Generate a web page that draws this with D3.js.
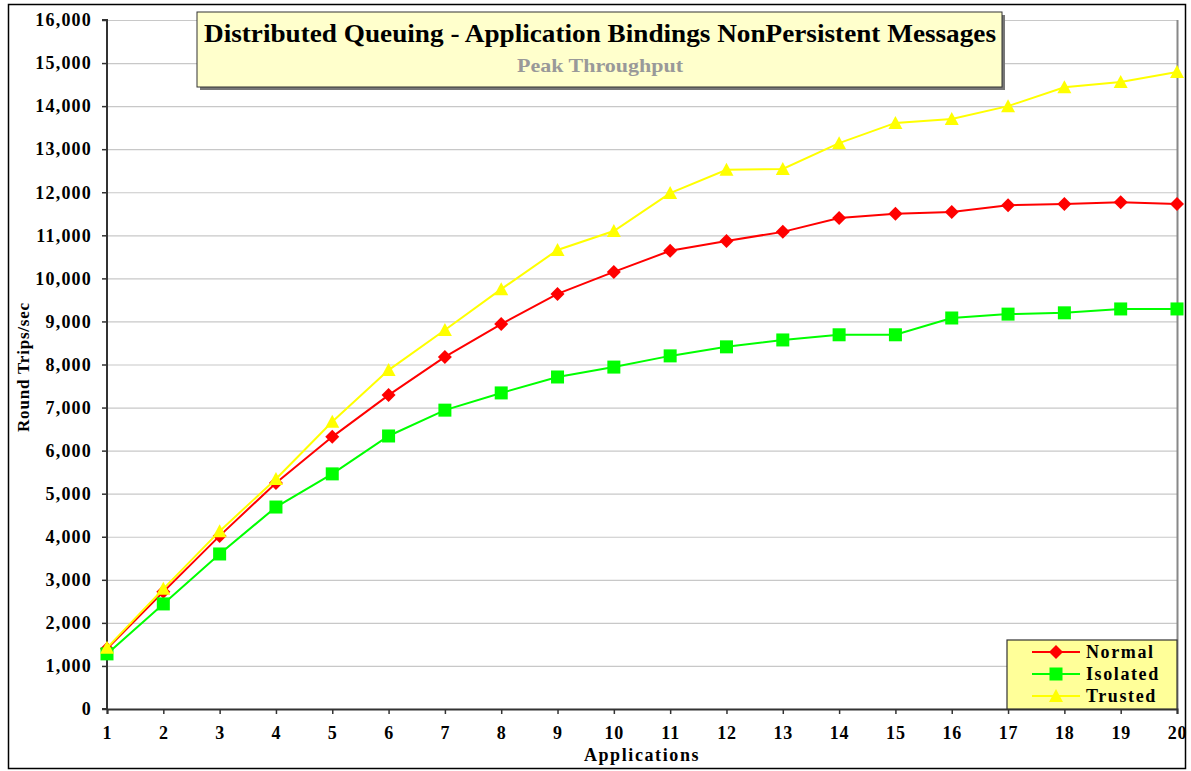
<!DOCTYPE html>
<html><head><meta charset="utf-8">
<script src="https://cdn.jsdelivr.net/npm/d3@7"></script>
<style>
body{margin:0;background:#fff;}
text{font-family:"Liberation Serif","Times New Roman",serif;font-weight:bold;}
</style></head><body>
<svg id="c" width="1191" height="771"></svg>
<script>
const applications = d3.range(1, 21);
const normal   = [1400,2720,4020,5250,6320,7290,8175,8940,9640,10150,10640,10870,11080,11400,11500,11540,11700,11730,11770,11730];
const isolated = [1280,2440,3600,4690,5460,6340,6940,7340,7710,7940,8200,8410,8570,8690,8690,9080,9170,9200,9290,9290];
const trusted  = [1420,2790,4130,5340,6670,7870,8800,9750,10660,11100,11980,12520,12540,13140,13610,13700,14000,14440,14560,14790];
const yTicks = d3.range(0, 16001, 1000);
const title = "Distributed Queuing - Application Bindings NonPersistent Messages";
const subtitle = "Peak Throughput";
const xTitle = "Applications";
const yTitle = "Round Trips/sec";

const series = [
  {name:"Normal", values:normal, color:"#ff0000", marker:"diamond"},
  {name:"Isolated", values:isolated, color:"#00ff00", marker:"square"},
  {name:"Trusted", values:trusted, color:"#ffff00", marker:"triangle"}
];

const svg = d3.select("#c");
const L=107, R=1177, T=20, B=709;
const x = d3.scaleLinear().domain([1,20]).range([L,R]);
const y = d3.scaleLinear().domain([0,16000]).range([B,T]);

// outer border
svg.append("rect").attr("x",8.5).attr("y",4.5).attr("width",1177).attr("height",764)
  .attr("fill","#fff").attr("stroke","#000").attr("stroke-width",1.5);

// gridlines
svg.append("g").selectAll("line").data(yTicks.slice(1)).join("line")
  .attr("x1",L).attr("x2",R).attr("y1",d=>y(d)+0.5).attr("y2",d=>y(d)+0.5)
  .attr("stroke","#c8c8c8").attr("stroke-width",1.2);
// right plot border
svg.append("line").attr("x1",R+0.5).attr("x2",R+0.5).attr("y1",T).attr("y2",B)
  .attr("stroke","#888").attr("stroke-width",2);

// axes
const yAxis = d3.axisLeft(y).tickValues(yTicks).tickSize(5).tickPadding(10).tickFormat(d3.format(","));
const gy = svg.append("g").attr("transform",`translate(${L},0)`).call(yAxis);
const xAxis = d3.axisBottom(x).tickValues(applications).tickSize(5).tickPadding(12).tickFormat(d3.format("d"));
const gx = svg.append("g").attr("transform",`translate(0,${B})`).call(xAxis);
[gx,gy].forEach(g=>{
  g.select(".domain").attr("stroke","#333").attr("stroke-width",2);
  g.selectAll(".tick line").attr("stroke","#333").attr("stroke-width",1.5);
  g.selectAll("text").attr("font-size",18).attr("fill","#000")
   .style("font-family",'"Liberation Serif","Times New Roman",serif').style("font-weight","bold");
});
gy.selectAll("text").attr("letter-spacing",1.2);
gx.selectAll("text").attr("letter-spacing",0.8);
gy.select(".domain").attr("d",`M-5,${B}H0V${T}H-5`);

// axis titles
svg.append("text").attr("x",642).attr("y",761).attr("text-anchor","middle")
  .attr("font-size",18).attr("letter-spacing",1.6).text(xTitle);
svg.append("text").attr("transform","translate(29,367) rotate(-90)").attr("text-anchor","middle")
  .attr("font-size",17).attr("letter-spacing",0.8).text(yTitle);

// markers
function marker(g, type, color, cx, cy){
  if(type==="diamond"){
    g.append("path").attr("d",`M${cx},${cy-7}L${cx+7},${cy}L${cx},${cy+7}L${cx-7},${cy}Z`).attr("fill",color);
  } else if(type==="square"){
    g.append("rect").attr("x",cx-6.5).attr("y",cy-6.5).attr("width",13).attr("height",13).attr("fill",color);
  } else {
    g.append("path").attr("d",`M${cx},${cy-7}L${cx+7},${cy+6}L${cx-7},${cy+6}Z`).attr("fill",color);
  }
}
const line = d3.line().x((d,i)=>x(applications[i])).y(d=>y(d));
series.forEach(s=>{
  const g = svg.append("g");
  g.append("path").attr("d",line(s.values)).attr("fill","none").attr("stroke",s.color).attr("stroke-width",2);
  s.values.forEach((v,i)=>marker(g,s.marker,s.color,x(applications[i]),y(v)));
});

// title box
svg.append("rect").attr("x",200).attr("y",15).attr("width",805).attr("height",75).attr("fill","#777");
svg.append("rect").attr("x",197).attr("y",12).attr("width",805).attr("height",75)
  .attr("fill","#ffffcc").attr("stroke","#333").attr("stroke-width",1);
svg.append("text").attr("x",600).attr("y",42).attr("text-anchor","middle").attr("font-size",26)
  .attr("textLength",792).attr("lengthAdjust","spacingAndGlyphs").text(title);
svg.append("text").attr("x",600).attr("y",72).attr("text-anchor","middle").attr("font-size",19)
  .attr("fill","#999").attr("textLength",166).attr("lengthAdjust","spacingAndGlyphs").text(subtitle);

// legend
const lg = svg.append("g");
lg.append("rect").attr("x",1007).attr("y",640).attr("width",170).attr("height",69)
  .attr("fill","#ffff99").attr("stroke","#333").attr("stroke-width",1.2);
series.forEach((s,i)=>{
  const ly = 652 + i*22;
  lg.append("line").attr("x1",1032).attr("x2",1080).attr("y1",ly).attr("y2",ly).attr("stroke",s.color).attr("stroke-width",2);
  marker(lg,s.marker,s.color,1056,ly);
  lg.append("text").attr("x",1086).attr("y",ly+6).attr("font-size",18).attr("letter-spacing",1.6).text(s.name);
});
</script>
</body></html>
